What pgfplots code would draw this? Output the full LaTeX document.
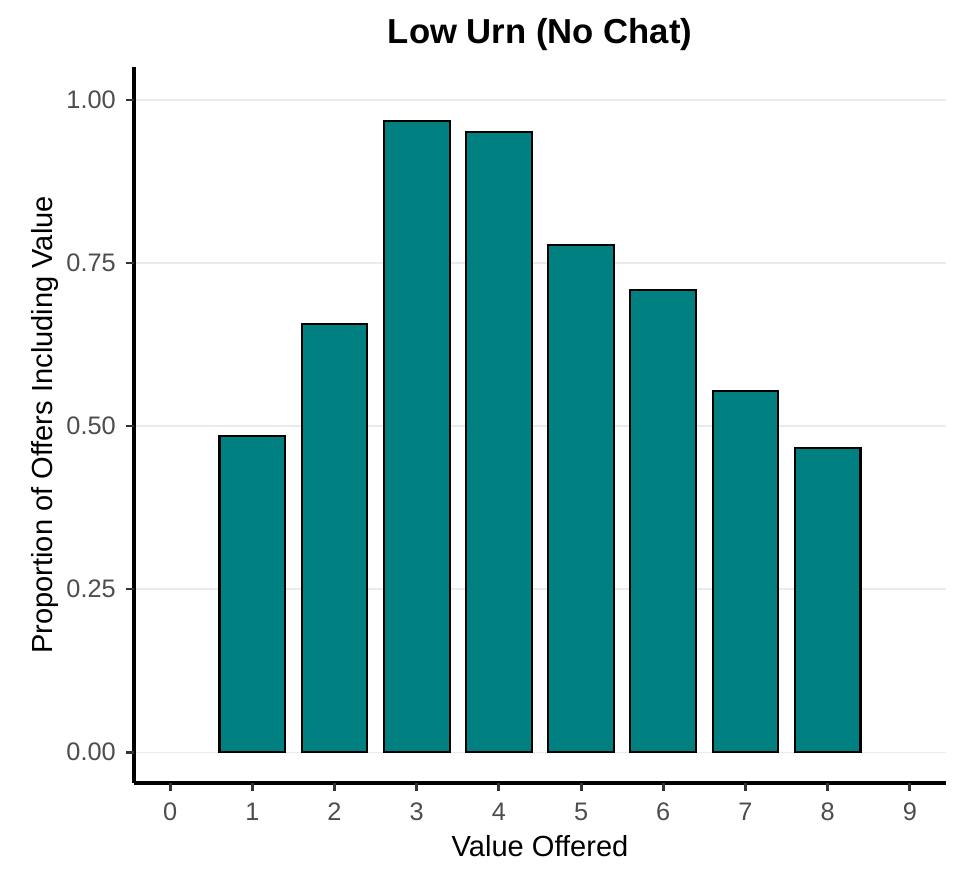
\documentclass[border=0pt]{standalone}
\usepackage{pgfplots}
\pgfplotsset{compat=1.18}
\usepackage{fontspec}
\setmainfont{Liberation Sans}
\definecolor{barteal}{HTML}{008080}
\definecolor{tickgray}{HTML}{333333}
\definecolor{labgray}{HTML}{4D4D4D}
\definecolor{gridgray}{HTML}{EBEBEB}
\begin{document}
\begin{tikzpicture}
\useasboundingbox (-100.5pt,-69.75pt) rectangle (624pt,587.25pt);
\begin{axis}[
  at={(0pt,0pt)}, anchor=south west,
  scale only axis, width=609pt, height=537pt,
  xmin=-0.44, xmax=9.44,
  ymin=-0.0475, ymax=1.0506,
  axis x line=bottom, axis y line=left,
  every outer x axis line/.append style={-, line width=2.4pt, black},
  every outer y axis line/.append style={-, line width=2.4pt, black},
  xtick={0,1,2,3,4,5,6,7,8,9},
  xticklabels={0,1,2,3,4,5,6,7,8,9},
  ytick={0,0.25,0.5,0.75,1},
  yticklabels={0.00,0.25,0.50,0.75,1.00},
  xtick align=outside, ytick align=outside,
  major tick length=6pt,
  xtick style={line width=2.2pt, draw=tickgray},
  ytick style={line width=2.2pt, draw=tickgray},
  ymajorgrids,
  major grid style={line width=0.8pt, gridgray},
  xticklabel style={font=\fontsize{19}{21}\selectfont, text=labgray, anchor=base, inner sep=0pt, yshift=-21.75pt},
  yticklabel style={font=\fontsize{19}{21}\selectfont, text=labgray, anchor=east, inner sep=0pt, xshift=-7.5pt},
  clip=false,
]
\addplot[ybar, bar width=0.8, fill=barteal, draw=black, line width=1.6pt] coordinates {
  (1,0.4847) (2,0.6564) (3,0.968) (4,0.951) (5,0.7776) (6,0.7086) (7,0.5537) (8,0.4663)
};
\pgfplotsinvokeforeach{0,1,2,3,4,5,6,7,8,9}{
  \draw[tickgray, line width=2.2pt] (axis cs:#1,-0.0475) -- ++(0pt,-6pt);
}
\pgfplotsinvokeforeach{0,0.25,0.5,0.75,1}{
  \draw[tickgray, line width=2.2pt] (axis cs:-0.44,#1) -- ++(-6pt,0pt);
}
\node[anchor=base, font=\fontsize{26}{30}\selectfont\bfseries] at (rel axis cs:0.5,1) [yshift=17.8pt] {Low Urn (No Chat)};
\node[anchor=base, font=\fontsize{21.8}{25}\selectfont] at (rel axis cs:0.5,0) [yshift=-54.75pt] {Value Offered};
\node[xshift=-60.75pt, rotate=90, anchor=base, font=\fontsize{21.8}{25}\selectfont] at (rel axis cs:0,0.5) {Proportion of Offers Including Value};
\end{axis}
\end{tikzpicture}
\end{document}
